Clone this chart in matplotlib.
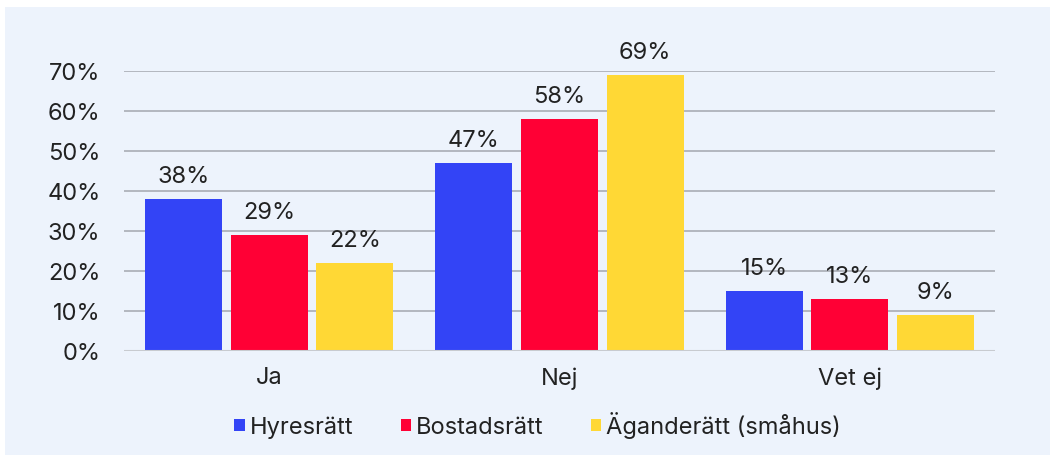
import numpy as np
import matplotlib.pyplot as plt
from matplotlib.patches import Rectangle

# data
categories = ['Ja', 'Nej', 'Vet ej']
series = ['Hyresrätt', 'Bostadsrätt', 'Äganderätt (småhus)']
hyresratt = [38, 47, 15]
bostadsratt = [29, 58, 13]
aganderatt = [22, 69, 9]
yticks = [0, 10, 20, 30, 40, 50, 60, 70]

colors = ['#3344F6', '#FF0035', '#FFD835']
bg = '#EDF3FC'
txt = '#222222'

plt.rcParams['font.family'] = ['Inter', 'DejaVu Sans']

fig = plt.figure(figsize=(10.5, 4.56), dpi=100)
fig.patch.set_facecolor('white')
# light panel behind the chart (white margin top/left like the reference)
fig.patches.append(Rectangle((5 / 1050, 0), 1, 1 - 8 / 456, transform=fig.transFigure,
                             facecolor=bg, edgecolor='none', zorder=-1))

ax = fig.add_axes([124 / 1050, 1 - 352 / 456, 871 / 1050, 280 / 456])
ax.set_facecolor(bg)
ax.patch.set_alpha(0)

fs = 17
x = np.arange(len(categories))
w = 0.265
step = 0.295
for i, (vals, name) in enumerate(zip([hyresratt, bostadsratt, aganderatt], series)):
    pos = x + (i - 1) * step
    bars = ax.bar(pos, vals, width=w, color=colors[i], label=name, zorder=3)
    for b, v in zip(bars, vals):
        ax.text(b.get_x() + b.get_width() / 2, v + 3, '%d%%' % v, ha='center', va='bottom',
                fontsize=fs, color=txt)

ax.set_xlim(-0.5, 2.5)
ax.set_ylim(0, 70)
ax.set_yticks(yticks)
ax.set_yticklabels(['%d%%' % t for t in yticks], fontsize=fs, color=txt)
ax.set_xticks(x)
ax.set_xticklabels(categories, fontsize=fs, color=txt)
ax.tick_params(length=0, pad=17)
ax.tick_params(axis='x', pad=11)
ax.yaxis.grid(True, color='#A3A7AE', linewidth=1.1, zorder=0)
ax.set_axisbelow(True)
for s in ax.spines.values():
    s.set_visible(False)
ax.axhline(0, color='#C8CBD0', linewidth=1.5, zorder=4)

leg = ax.legend(loc='upper center', bbox_to_anchor=(0.475, -0.14), ncol=3, frameon=False,
                fontsize=fs, handlelength=0.45, handleheight=0.45, handletextpad=0.2,
                columnspacing=2.0, labelcolor=txt)

fig.savefig('out.png', dpi=100, facecolor=fig.get_facecolor())
